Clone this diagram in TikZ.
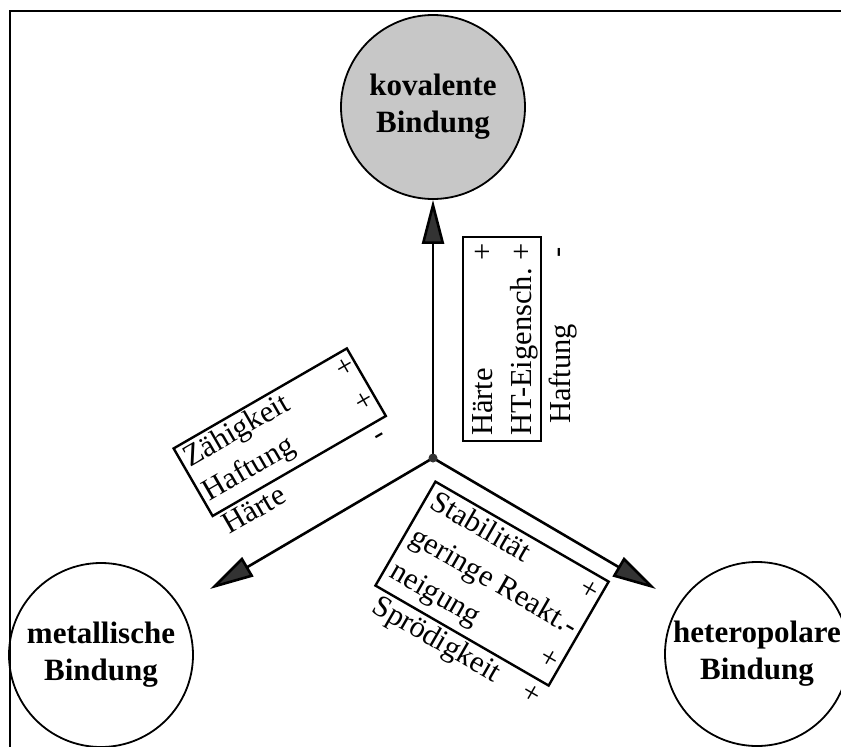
\documentclass[tikz,border=0pt]{standalone}
\usepackage{fontspec}
\setmainfont{Liberation Serif}
\usetikzlibrary{arrows.meta}
\begin{document}
\begin{tikzpicture}[x=1pt,y=-1pt,
  frame/.style={line width=2.6pt},
  bond/.style={circle, draw, line width=1.8pt, minimum size=184pt, inner sep=0pt,
    align=center, font=\fontsize{31}{37}\selectfont\bfseries},
  axis/.style={line width=2.6pt, -{Triangle[length=44pt,width=22pt,fill=black!80]}},
  listbox/.style={draw, line width=2.4pt, inner sep=0pt, anchor=north west},
  entry/.style={font=\fontsize{30.5}{39}\selectfont, inner sep=0pt, anchor=base west},
  sign/.style={font=\fontsize{30.5}{39}\selectfont, inner sep=0pt, anchor=base},
]
\useasboundingbox (0,0) rectangle (841,747);

% frame: top and left edges only
\draw[frame] (10,747) -- (10,11) -- (841,11);

% the three bond types
\node[bond, fill=black!22] (kov) at (433,107) {kovalente\\Bindung};
\node[bond] (met) at (101,655) {metallische\\Bindung};
\node[bond] (het) at (757,654) {heteropolare\\Bindung};

% centre and axes
\coordinate (c) at (433,458);
\coordinate (tipL) at (210,589);
\coordinate (tipR) at (656,589);
\draw[axis] (c) -- (kov.south);
\draw[axis] (c) -- (tipL);
\draw[axis] (c) -- (tipR);
\fill[black!80] (c) circle (4.5pt);

% properties towards the covalent bond
\begin{scope}[shift={(462,442)}, rotate=90, transform shape]
  \node[listbox, minimum width=204pt, minimum height=78pt] (kbox) at (0,0) {};
  \node[entry] (k1) at (6,30) {Härte};
  \node[sign] (k1s) at (190,30) {+};
  \node[entry] (k2) at (6,69) {HT-Eigensch.};
  \node[sign] (k2s) at (190,69) {+};
  \node[entry] (k3) at (18,108) {Haftung};
  \node[sign] (k3s) at (190,104) {-};
\end{scope}

% properties towards the metallic bond
\begin{scope}[shift={(172,448)}, rotate=30, transform shape]
  \node[listbox, minimum width=200pt, minimum height=78pt] (mbox) at (0,0) {};
  \node[entry] (m1) at (6,26) {Zähigkeit};
  \node[sign] (m1s) at (190,26) {+};
  \node[entry] (m2) at (6,65) {Haftung};
  \node[sign] (m2s) at (190,65) {+};
  \node[entry] (m3) at (6,104) {Härte};
  \node[sign] (m3s) at (186,100) {-};
\end{scope}

% properties towards the heteropolar bond
\begin{scope}[shift={(435,480)}, rotate=-30, transform shape]
  \node[listbox, minimum width=200pt, minimum height=120pt] (hbox) at (0,0) {};
  \node[entry] (h1) at (8,27) {Stabilität};
  \node[sign] (h1s) at (189,27) {+};
  \node[entry] (h2) at (8,67) {geringe Reakt.-};
  \node[entry] (h3) at (8,107) {neigung};
  \node[sign] (h3s) at (189,107) {+};
  \node[entry] (h4) at (10,146) {Sprödigkeit};
  \node[sign] (h4s) at (190,146) {+};
\end{scope}
\end{tikzpicture}
\end{document}
